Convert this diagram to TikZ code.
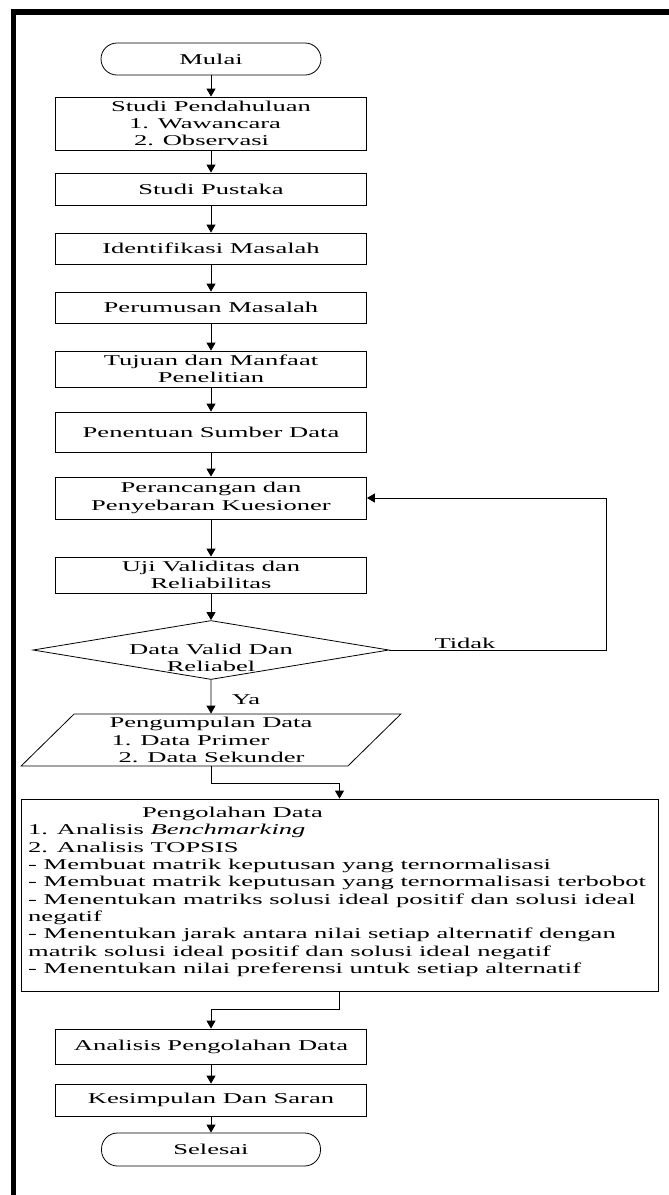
\documentclass[tikz,border=0pt]{standalone}
\usepackage{fontspec}
\setmainfont{Liberation Serif}[FakeStretch=1.77]
\usetikzlibrary{arrows.meta,shapes.geometric}
\begin{document}
\begin{tikzpicture}[x=1pt,y=-1pt,
  txt/.style={font=\fontsize{15}{17.3}\selectfont},
  box/.style={txt, draw, line width=0.8pt, minimum width=311pt, inner sep=1pt, align=center},
  term/.style={txt, draw, line width=0.8pt, rounded corners=16pt, minimum width=220pt, minimum height=32pt, inner sep=1pt},
  arr/.style={-{Triangle[width=9pt,length=8pt]}, line width=0.8pt}]
\useasboundingbox (0,0) rectangle (669,1195);
% frame
\fill[black] (11,9) rectangle (669,15);
\fill[black] (11,9) rectangle (15.5,1195);
% nodes
\node[term] (mulai) at (211,59) {Mulai};
\node[box, minimum height=53pt, align=left] (sp) at (211,123.5) {Studi Pendahuluan\\\hspace*{18pt}1. Wawancara\\\hspace*{23pt}2. Observasi};
\node[box, minimum height=32pt] (pus) at (211,189) {Studi Pustaka};
\node[box, minimum height=31pt] (idf) at (211,248.5) {Identifikasi Masalah};
\node[box, minimum height=31pt] (per) at (211,307.5) {Perumusan Masalah};
\node[box, minimum height=36pt] (tuj) at (211,369) {Tujuan dan Manfaat\\Penelitian};
\node[box, minimum height=40pt] (pen) at (211,432) {Penentuan Sumber Data};
\node[box, minimum height=42pt] (pra) at (211,498) {Perancangan dan\\Penyebaran Kuesioner};
\node[box, minimum height=36pt] (uji) at (211,575) {Uji Validitas dan\\Reliabilitas};
\node[draw, diamond, line width=0.8pt, minimum width=356pt, minimum height=59pt, inner sep=0pt] (dia) at (211,650) {};
\node[txt, align=center] (diatext) at (211,658) {Data Valid Dan\\Reliabel};
\node[txt, draw, line width=0.8pt, trapezium, trapezium left angle=50, trapezium right angle=130,
      trapezium stretches=true, minimum width=381pt, minimum height=52pt, inner sep=1pt, align=left] (pk) at (211,740)
      {Pengumpulan Data\\\hspace*{2pt}1. Data Primer\\\hspace*{9pt}2. Data Sekunder};
\node[draw, line width=0.8pt, minimum width=637pt, minimum height=192pt, inner sep=0pt] (pg) at (339.5,895) {};
\node[txt, anchor=north west, align=left, inner sep=0pt] (pgtext) at (28,807)
  {\hspace*{114pt}Pengolahan Data\\
   1. Analisis \textit{Benchmarking}\\
   2. Analisis TOPSIS\\
   - Membuat matrik keputusan yang ternormalisasi\\
   - Membuat matrik keputusan yang ternormalisasi terbobot\\
   - Menentukan matriks solusi ideal positif dan solusi ideal\\
   negatif\\
   - Menentukan jarak antara nilai setiap alternatif dengan\\
   matrik solusi ideal positif dan solusi ideal negatif\\
   - Menentukan nilai preferensi untuk setiap alternatif};
\node[box, minimum height=35pt] (an) at (211,1046.5) {Analisis Pengolahan Data};
\node[box, minimum height=32pt] (kes) at (211,1100) {Kesimpulan Dan Saran};
\node[term, minimum width=219pt, minimum height=33pt] (sel) at (211,1149.5) {Selesai};
% labels
\node[txt, inner sep=0pt] (tidak) at (465,643) {Tidak};
\node[txt, inner sep=0pt] (ya) at (246,700) {Ya};
% connectors
\draw[arr] (mulai) -- (sp);
\draw[arr] (sp) -- (pus);
\draw[arr] (pus) -- (idf);
\draw[arr] (idf) -- (per);
\draw[arr] (per) -- (tuj);
\draw[arr] (tuj) -- (pen);
\draw[arr] (pen) -- (pra);
\draw[arr] (pra) -- (uji);
\draw[arr] (uji) -- (dia);
\draw[arr] (dia.south) -- (pk.north);
\draw[arr] (dia.east) -- ++(217,0) |- (pra.east);
\draw[arr] (pk.south) -- ++(0,17) -| (pg.north);
\draw[arr] (pg.south) -- ++(0,18) -| (an.north);
\draw[arr] (an) -- (kes);
\draw[arr] (kes) -- (sel);
\end{tikzpicture}
\end{document}
